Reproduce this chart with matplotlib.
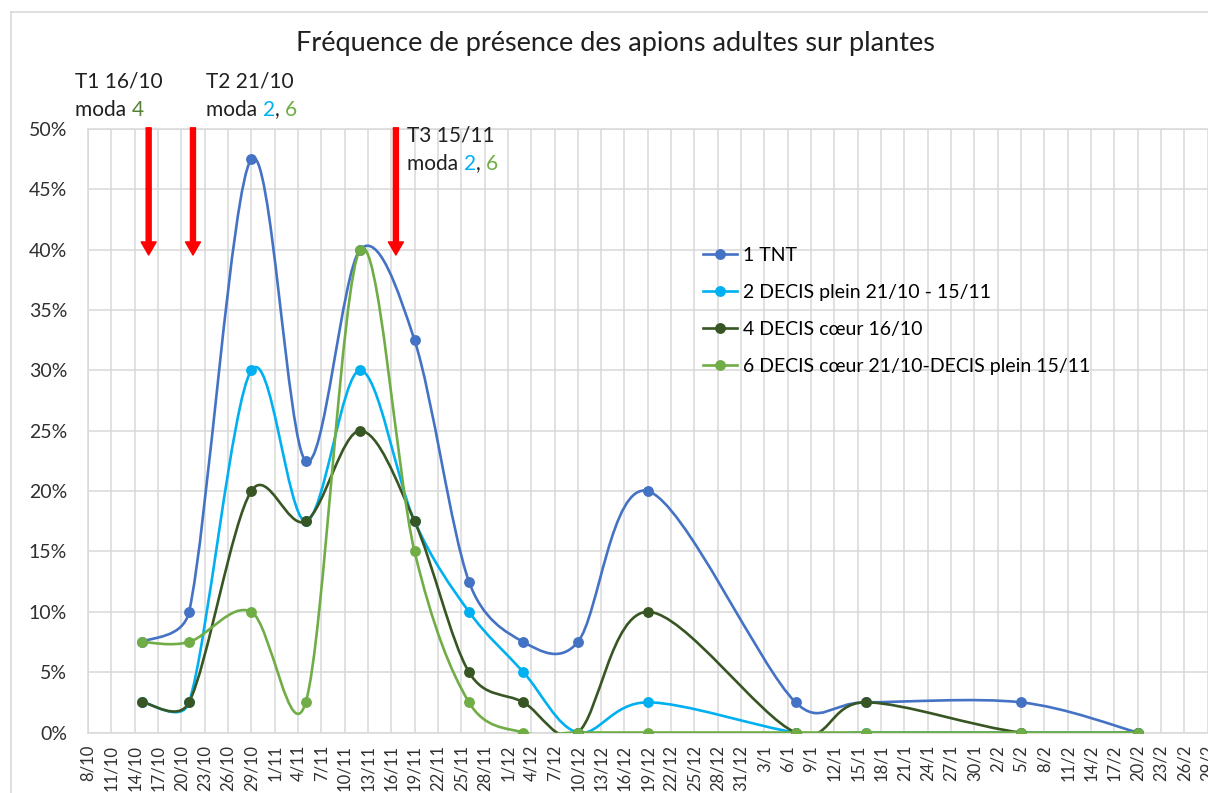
import matplotlib
matplotlib.use('Agg')
import matplotlib.pyplot as plt
import matplotlib.dates as mdates
from matplotlib.path import Path
from matplotlib.patches import PathPatch
from matplotlib.lines import Line2D
from matplotlib.ticker import PercentFormatter
import numpy as np
import pandas as pd

plt.rcParams['font.family'] = ['Lato', 'DejaVu Sans']

# observation dates and % of plants with adult apions
dates = ['2019-10-15', '2019-10-21', '2019-10-29', '2019-11-05', '2019-11-12',
         '2019-11-19', '2019-11-26', '2019-12-03', '2019-12-10', '2019-12-19',
         '2020-01-07', '2020-01-16', '2020-02-05', '2020-02-20']
tnt = [7.5, 10, 47.5, 22.5, 40, 32.5, 12.5, 7.5, 7.5, 20, 2.5, 2.5, 2.5, 0]
decis_plein = [2.5, 2.5, 30, 17.5, 30, 17.5, 10, 5, 0, 2.5, 0, 0, 0, 0]
decis_coeur = [2.5, 2.5, 20, 17.5, 25, 17.5, 5, 2.5, 0, 10, 0, 2.5, 0, 0]
decis_coeur_plein = [7.5, 7.5, 10, 2.5, 40, 15, 2.5, 0, 0, 0, 0, 0, 0, 0]

series = [
    ('1 TNT', tnt, '#4472C4'),
    ('2 DECIS plein 21/10 - 15/11', decis_plein, '#00B0F0'),
    ('4 DECIS cœur 16/10', decis_coeur, '#375623'),
    ('6 DECIS cœur 21/10-DECIS plein 15/11', decis_coeur_plein, '#70AD47'),
]

start = pd.Timestamp('2019-10-08')
# treatment arrows (days after 8/10, as drawn on the picture)
arrow_days = [7.8, 13.5, 39.6]

W, H = 1208, 793
px_day = 7.775          # horizontal scale of the plot area
px_pct = 603.5 / 50     # vertical scale
ndays = 150


def smooth_path(x, y, s=1 / 6, k=0.5):
    # excel-like smoothed line: catmull-rom bezier, each control arm
    # capped at k * length of its segment (measured on screen)
    pts = np.column_stack([x, y]).astype(float)
    scale = np.array([px_day, px_pct])
    n = len(pts)
    c_in, c_out = [None] * n, [None] * n
    for i in range(n):
        a = max(i - 1, 0)
        b = min(i + 1, n - 1)
        arm = (pts[b] - pts[a]) * s * scale
        alen = np.hypot(*arm)
        d1 = np.hypot(*((pts[i] - pts[a]) * scale))
        d2 = np.hypot(*((pts[b] - pts[i]) * scale))
        f_in = min(1, k * d1 / alen) if alen > 0 else 0
        f_out = min(1, k * d2 / alen) if alen > 0 else 0
        c_in[i] = pts[i] - arm * f_in / scale
        c_out[i] = pts[i] + arm * f_out / scale
    verts = [pts[0]]
    codes = [Path.MOVETO]
    for i in range(n - 1):
        verts += [c_out[i], c_in[i + 1], pts[i + 1]]
        codes += [Path.CURVE4] * 3
    return Path(verts, codes)


fig = plt.figure(figsize=(W / 100, H / 100), dpi=100)
ax = fig.add_axes([88 / W, 60.5 / H, ndays * px_day / W, 603.5 / H])

x = mdates.date2num(pd.to_datetime(dates)) - mdates.date2num(start)

handles = []
for label, vals, col in series:
    ax.add_patch(PathPatch(smooth_path(x, vals), facecolor='none', edgecolor=col,
                           lw=1.9, zorder=3, capstyle='round'))
    ax.plot(x, vals, ls='none', marker='o', ms=6.8, color=col, zorder=4)
    handles.append(Line2D([], [], color=col, lw=1.9, marker='o', ms=6.8))

ax.set_xlim(0, ndays)
ax.set_ylim(0, 50)
ticks = pd.date_range(start, periods=ndays // 3 + 1, freq='3D')
ax.set_xticks(np.arange(len(ticks)) * 3)
ax.set_xticklabels([f"{d.day}/{d.month}" for d in ticks])
ax.set_yticks(np.arange(0, 51, 5))
ax.yaxis.set_major_formatter(PercentFormatter(100, decimals=0))
ax.tick_params(axis='x', length=0, pad=9, labelsize=12, rotation=90, colors='#303030')
ax.tick_params(axis='y', length=0, pad=15, labelsize=14, colors='#303030')
ax.grid(True, color='#D9D9D9', lw=1.1)
ax.set_axisbelow(True)
for sp in ax.spines.values():
    sp.set_color('#D9D9D9')
    sp.set_linewidth(1.1)

ax.legend(handles, [s[0] for s in series], loc='upper left',
          bbox_to_anchor=((703 - 88) / (ndays * px_day), (732.5 - 247) / 603.5),
          frameon=False, fontsize=14, handlelength=1.75, handletextpad=0.3,
          labelspacing=1.03, borderpad=0, borderaxespad=0)

# red arrows for treatments
for d in arrow_days:
    ax.annotate('', xy=(d, 39.56), xytext=(d, 50.1),
                arrowprops=dict(arrowstyle='simple,head_length=9.4,head_width=10.8,tail_width=3.6',
                                mutation_scale=1, color='#FF0000', shrinkA=0, shrinkB=0),
                annotation_clip=False)

fig.text(615 / W, 1 - 44 / H, 'Fréquence de présence des apions adultes sur plantes',
         ha='center', va='center', fontsize=19.5, color='#202020')


def rainbow(xpx, ypx, parts):
    t = fig.text(xpx / W, 1 - ypx / H, parts[0][0], color=parts[0][1],
                 fontsize=15, va='baseline', ha='left')
    for txt, col in parts[1:]:
        t = ax.annotate(txt, xy=(1, 0), xycoords=t, va='bottom', ha='left',
                        fontsize=15, color=col)


dark = '#202020'
rainbow(75, 87, [('T1 16/10', dark)])
rainbow(75, 116, [('moda ', dark), ('4', '#548235')])
rainbow(206, 87, [('T2 21/10', dark)])
rainbow(206, 116, [('moda ', dark), ('2', '#00B0F0'), (', ', dark), ('6', '#70AD47')])
rainbow(407, 142, [('T3 15/11', dark)])
rainbow(407, 170, [('moda ', dark), ('2', '#00B0F0'), (', ', dark), ('6', '#70AD47')])

# chart area border
fig.add_artist(Line2D([11 / W, 11 / W], [0, 1 - 12 / H], color='#D9D9D9', lw=1.2))
fig.add_artist(Line2D([11 / W, 1], [1 - 12 / H, 1 - 12 / H], color='#D9D9D9', lw=1.2))

fig.savefig('out.png', dpi=100)
